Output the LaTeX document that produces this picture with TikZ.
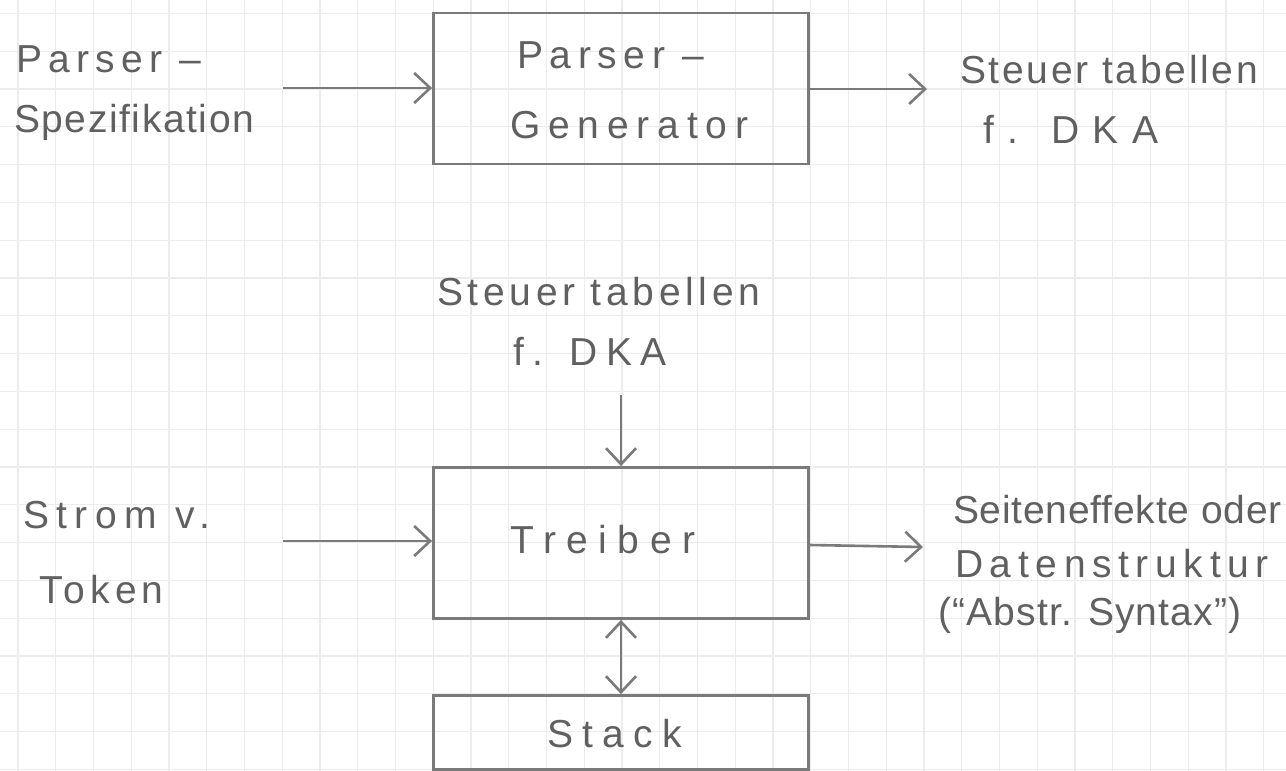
\documentclass[tikz,border=0pt]{standalone}
\usepackage{fontspec}
\setmainfont{Liberation Sans}
\usetikzlibrary{arrows.meta}
\definecolor{pen}{HTML}{7A7A7A}
\definecolor{ink}{HTML}{606060}
\definecolor{gridc}{HTML}{ECECEC}
\newcommand{\lsp}[1]{\addfontfeature{LetterSpace=#1}}
\begin{document}
\begin{tikzpicture}[x=1pt,y=-1pt,
  hand/.style={font=\fontsize{39}{45}\selectfont, text=ink, inner sep=0pt, anchor=base west},
  blk/.style={draw=pen, line width=2.8pt, minimum width=375pt, inner sep=0pt},
  tip/.style={Straight Barb[length=16pt,width=30pt,line width=2.6pt]},
  conn/.style={draw=pen, line width=2.6pt, -{Straight Barb[length=16pt,width=30pt,line width=2.6pt]}},
  dconn/.style={draw=pen, line width=2.6pt, {Straight Barb[length=16pt,width=30pt,line width=2.6pt]}-{Straight Barb[length=16pt,width=30pt,line width=2.6pt]}}]
\useasboundingbox (0,0) rectangle (1286,771);
\fill[white] (0,0) rectangle (1286,771);
% grid paper
\foreach \i in {0,...,33} \draw[gridc, line width=1.2pt] ({18+37.75*\i},0) -- ({18+37.75*\i},771);
\foreach \j in {0,...,20} \draw[gridc, line width=1.2pt] (0,{13.4+37.8*\j}) -- (1286,{13.4+37.8*\j});
% boxes
\node[blk, minimum height=151pt] (pg) at (621,88.5) {};
\node[blk, minimum height=151pt] (tr) at (621,543) {};
\node[blk, minimum height=74pt] (st) at (621,732.5) {};
% texts
\node[hand] (l1a) at (16,72) {\lsp{16}Parser –};
\node[hand] (l1b) at (14,132) {\lsp{4}Spezifikation};
\node[hand] (b1a) at (517,68) {\lsp{17}Parser –};
\node[hand] (b1b) at (510,138) {\lsp{20}Generator};
\node[hand] (r1a) at (960,83) {\lsp{7}Steuer tabellen};
\node[hand] (r1b) at (983,143) {\lsp{35}f. DKA};
\node[hand] (m1a) at (437,305) {\lsp{12}Steuer tabellen};
\node[hand] (m1b) at (513,365) {\lsp{22}f. DKA};
\node[hand] (t1) at (510,553) {\lsp{27}Treiber};
\node[hand] (s1) at (547,747) {\lsp{24}Stack};
\node[hand] (sl1) at (23,528) {\lsp{19}Strom v.};
\node[hand] (sl2) at (39,603) {\lsp{13}Token};
\node[hand] (o1) at (953,523) {\lsp{2}Seiteneffekte oder};
\node[hand] (o2) at (955,577) {\lsp{17}Datenstruktur};
\node[hand] (o3) at (938,625) {\lsp{3}(“Abstr. Syntax”)};
% connectors
\coordinate (inA) at (283,88);
\coordinate (outA) at (927,89);
\coordinate (inM) at (621,395);
\coordinate (inT) at (283,541);
\coordinate (outT) at (923,547);
\draw[conn] (inA) -- (inA -| pg.west);
\draw[conn] (pg.east |- outA) -- (outA);
\draw[conn] (inM) -- (tr.north);
\draw[conn] (inT) -- (inT -| tr.west);
\draw[conn] (tr.east |- 0,545) -- (outT);
\draw[dconn] (tr.south) -- (st.north);
\end{tikzpicture}
\end{document}
